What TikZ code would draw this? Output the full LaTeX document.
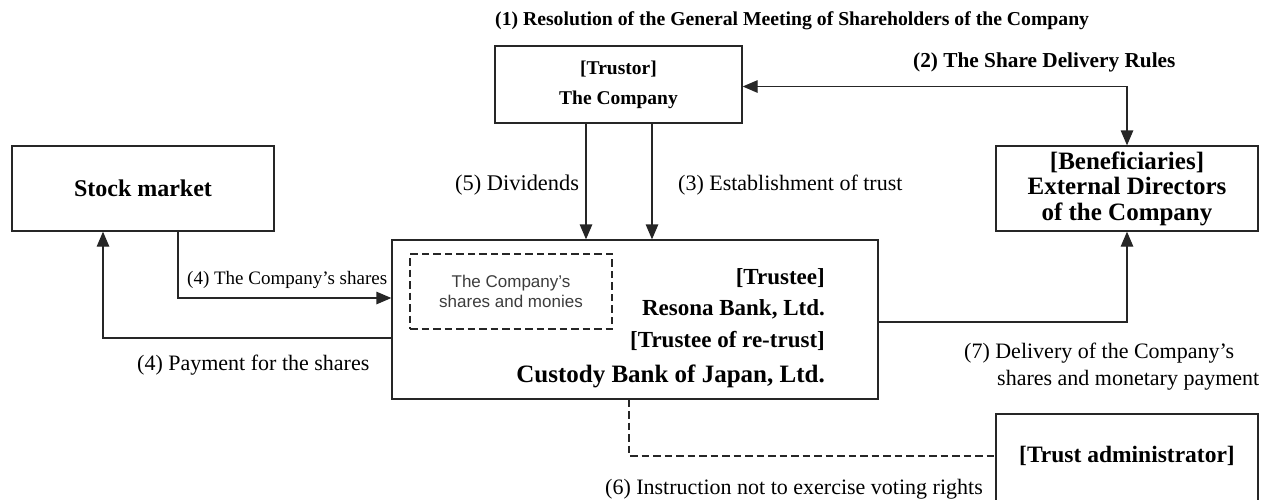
\documentclass[tikz,border=0pt]{standalone}
\usepackage{fontspec}
\setmainfont{Liberation Serif}
\newfontfamily\arialf{Liberation Sans}
\usetikzlibrary{arrows.meta}
\definecolor{ln}{HTML}{262626}
\definecolor{gr}{HTML}{3C3C3C}
\begin{document}
\begin{tikzpicture}[x=1pt,y=-1pt,
  box/.style={draw=ln, line width=1.3pt, inner sep=0pt, align=center},
  lbl/.style={inner sep=0pt, anchor=base west, text=black},
  rlbl/.style={inner sep=0pt, anchor=base east, text=black, font=\fontsize{23}{26}\selectfont\bfseries},
  arr/.style={draw=ln, line width=1.3pt, -{Triangle[length=15pt,width=12.5pt]}},
  darr/.style={draw=ln, line width=1.3pt, {Triangle[length=15pt,width=12.5pt]}-{Triangle[length=15pt,width=12.5pt]}},
  dline/.style={draw=ln, line width=2pt, dash pattern=on 7.5pt off 4pt}]
\useasboundingbox (0,0) rectangle (1272,499);
\clip (0,0) rectangle (1272,499);

% boxes
\node[box, minimum width=247pt, minimum height=77pt, font=\fontsize{19.5}{30}\selectfont\bfseries] (trustor) at (618.5,84.5) {[Trustor]\\The Company};
\node[box, minimum width=262pt, minimum height=85pt, font=\fontsize{24}{28}\selectfont\bfseries] (stock) at (143,188.5) {Stock market};
\node[box, minimum width=262pt, minimum height=85pt, font=\fontsize{25}{25.5}\selectfont\bfseries] (benef) at (1127,188.5) {[Beneficiaries]\\External Directors\\of the Company};
\node[box, minimum width=486pt, minimum height=159pt] (trustee) at (635,319.5) {};
\node[dline, minimum width=202pt, minimum height=75pt, inner sep=0pt, align=center, text=gr, font=\arialf\fontsize{17}{20}\selectfont] (assets) at (511,291.5) {The Company’s\\shares and monies};
\node[box, minimum width=262pt, minimum height=100pt] (admin) at (1127,464) {};
\node[inner sep=0pt, font=\fontsize{23.5}{28}\selectfont\bfseries] (admintxt) at ([yshift=8pt]admin.center) {[Trust administrator]};

% trustee texts
\node[rlbl] (t1) at (825,284) {[Trustee]};
\node[rlbl] (t2) at (825,315) {Resona Bank, Ltd.};
\node[rlbl] (t3) at (825,347) {[Trustee of re-trust]};
\node[rlbl, font=\fontsize{25}{28}\selectfont\bfseries] (t4) at (825,382.5) {Custody Bank of Japan, Ltd.};

% labels
\node[lbl, font=\fontsize{19.7}{24}\selectfont\bfseries] (l1) at (495,25.7) {(1) Resolution of the General Meeting of Shareholders of the Company};
\node[lbl, font=\fontsize{21.3}{24}\selectfont\bfseries] (l2) at (913,67) {(2) The Share Delivery Rules};
\node[lbl, font=\fontsize{22.4}{26}\selectfont] (l5) at (455,190.6) {(5) Dividends};
\node[lbl, font=\fontsize{22}{26}\selectfont] (l3) at (678,190.5) {(3) Establishment of trust};
\node[lbl, font=\fontsize{19}{22}\selectfont] (l4a) at (187,284.5) {(4) The Company’s shares};
\node[lbl, font=\fontsize{22}{26}\selectfont] (l4b) at (137,370.5) {(4) Payment for the shares};
\node[lbl, font=\fontsize{22}{26}\selectfont] (l7a) at (964,358.5) {(7) Delivery of the Company’s};
\node[lbl, font=\fontsize{22}{26}\selectfont] (l7b) at (997,385.5) {shares and monetary payment};
\node[lbl, font=\fontsize{22}{26}\selectfont] (l6) at (605,494.5) {(6) Instruction not to exercise voting rights};

% connectors
\draw[darr] ([yshift=-2pt]trustor.east) -| (benef.north);
\draw[arr] ([xshift=-32.5pt]trustor.south) -- ([xshift=-32.5pt]trustor.south |- trustee.north);
\draw[arr] ([xshift=33.5pt]trustor.south) -- ([xshift=33.5pt]trustor.south |- trustee.north);
\draw[arr] ([xshift=35pt]stock.south) |- ([yshift=21.5pt]trustee.west);
\draw[arr] ([yshift=-18.5pt]trustee.west) -| ([xshift=-40pt]stock.south);
\draw[arr] ([yshift=-2.5pt]trustee.east) -| (benef.south);
\draw[dline] ([xshift=-6pt]trustee.south) |- ([yshift=8pt]admin.west);
\end{tikzpicture}
\end{document}
